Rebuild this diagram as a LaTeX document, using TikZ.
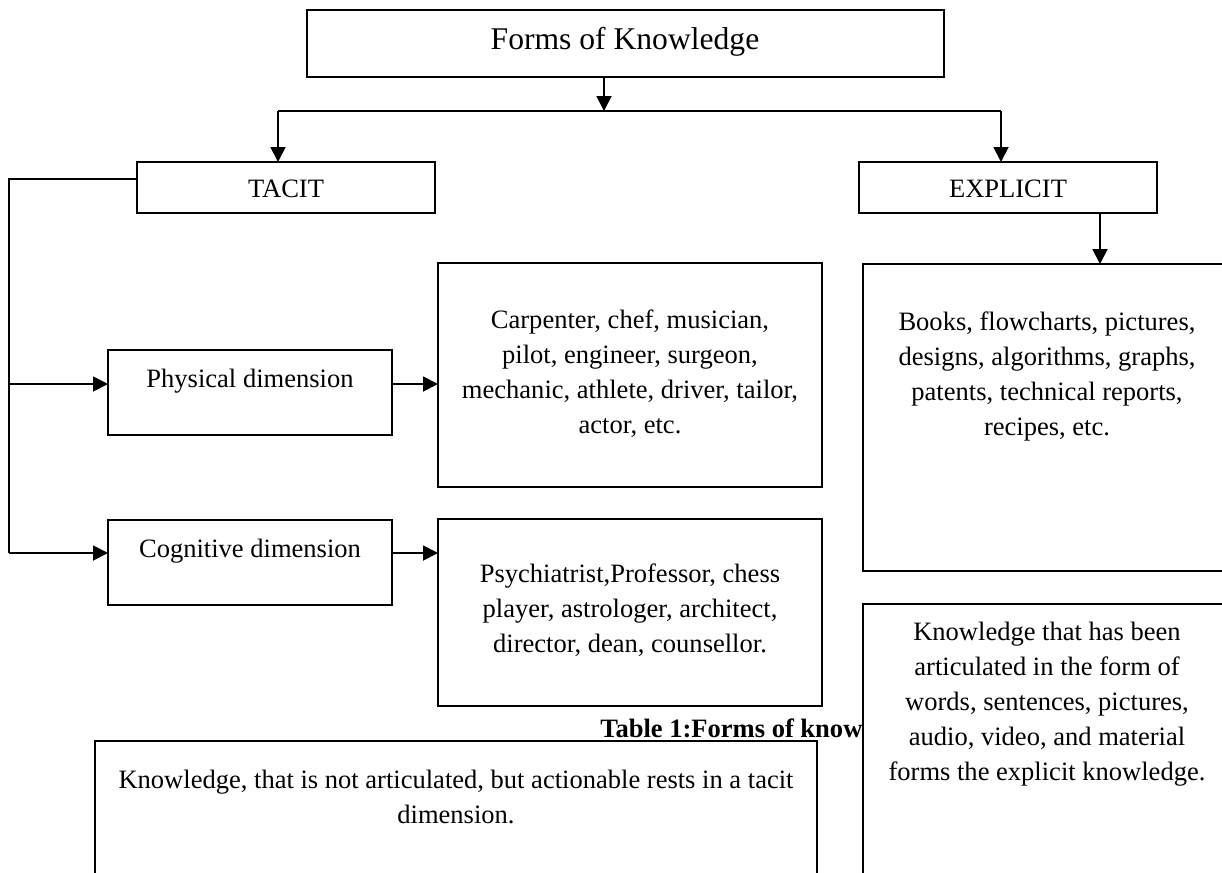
\documentclass[tikz,border=0pt]{standalone}
\usepackage{fontspec}
\setmainfont{Liberation Serif}
\usetikzlibrary{arrows.meta}
\newcommand\mlines[1]{\begin{tabular}[t]{@{}c@{}}#1\end{tabular}}
\tikzset{
  boxnode/.style={draw, line width=1.4pt, inner sep=0pt, outer sep=0pt, fill=white},
  txt/.style={inner sep=0pt, anchor=base, font=\fontsize{19.9}{26.25}\selectfont},
  conn/.style={line width=1.4pt},
  arr/.style={line width=1.4pt, -{Triangle[length=11.25pt, width=11.25pt]}}
}
\begin{document}
\begin{tikzpicture}[x=0.75pt, y=-0.75pt]
\useasboundingbox (0,0) rectangle (1222,872);
\fill[white] (0,0) rectangle (1222,872);
\clip (0,0) rectangle (1222,872);

% boxes
\node[boxnode, minimum width=477.75pt, minimum height=50.25pt] (top) at (625.5,43.5) {};
\node[boxnode, minimum width=223.5pt, minimum height=38.25pt] (tacit) at (286,187.5) {};
\node[boxnode, minimum width=223.5pt, minimum height=38.25pt] (explicit) at (1008,187.5) {};
\node[boxnode, minimum width=213pt, minimum height=63.75pt] (phys) at (250,392.5) {};
\node[boxnode, minimum width=213pt, minimum height=63.75pt] (cog) at (250,562.5) {};
\node[boxnode, minimum width=288pt, minimum height=168pt] (carp) at (630,375) {};
\node[boxnode, minimum width=288pt, minimum height=140.25pt] (psy) at (630,612.5) {};
\node[boxnode, minimum width=276pt, minimum height=230.25pt] (books) at (1047,417.5) {};
\node[boxnode, minimum width=541.5pt, minimum height=119.25pt] (tacitk) at (456,820.5) {};

% caption (partly hidden by the box on the right)
\node[txt, anchor=base west, font=\fontsize{19.9}{26.25}\selectfont\bfseries] (cap) at (600,737) {Table 1:Forms of know};
\node[boxnode, minimum width=276pt, minimum height=222pt] (expk) at (1047,752) {};

% texts
\node[txt, font=\fontsize{23.7}{28}\selectfont] (ttop) at (625,49) {Forms of Knowledge};
\node[txt] (ttacit) at (286,197) {TACIT};
\node[txt] (texplicit) at (1008,197) {EXPLICIT};
\node[txt] (tphys) at (250,387) {Physical dimension};
\node[txt] (tcog) at (250,557) {Cognitive dimension};
\node[txt] (tcarp) at (630,328) {\mlines{Carpenter, chef, musician,\\pilot, engineer, surgeon,\\mechanic, athlete, driver, tailor,\\actor, etc.}};
\node[txt] (tpsy) at (630,582) {\mlines{Psychiatrist,Professor, chess\\player, astrologer, architect,\\director, dean, counsellor.}};
\node[txt] (tbooks) at (1047,330) {\mlines{Books, flowcharts, pictures,\\designs, algorithms, graphs,\\patents, technical reports,\\recipes, etc.}};
\node[txt] (texpk) at (1047,640) {\mlines{Knowledge that has been\\articulated in the form of\\words, sentences, pictures,\\audio, video, and material\\forms the explicit knowledge.}};
\node[txt] (ttacitk) at (456,788) {\mlines{Knowledge, that is not articulated, but actionable rests in a tacit\\dimension.}};

% connectors
\coordinate (j0) at (604,111);
\coordinate (jl) at (278,111);
\coordinate (jr) at (1001,111);
\coordinate (ex) at (1100,0);
\coordinate (lt) at (9,179);
\coordinate (a1) at (9,384);
\coordinate (a2) at (9,553);

\draw[arr] (top.south -| j0) -- (j0);
\draw[conn] (jl) -- (jr);
\draw[arr] (jl) -- (jl |- tacit.north);
\draw[arr] (jr) -- (jr |- explicit.north);
\draw[arr] (explicit.south -| ex) -- (books.north -| ex);
\draw[conn] (tacit.west |- lt) -- (lt) -- (a2);
\draw[arr] (a1) -- (phys.west |- a1);
\draw[arr] (a2) -- (cog.west |- a2);
\draw[arr] (phys.east |- a1) -- (carp.west |- a1);
\draw[arr] (cog.east |- a2) -- (psy.west |- a2);
\end{tikzpicture}
\end{document}
